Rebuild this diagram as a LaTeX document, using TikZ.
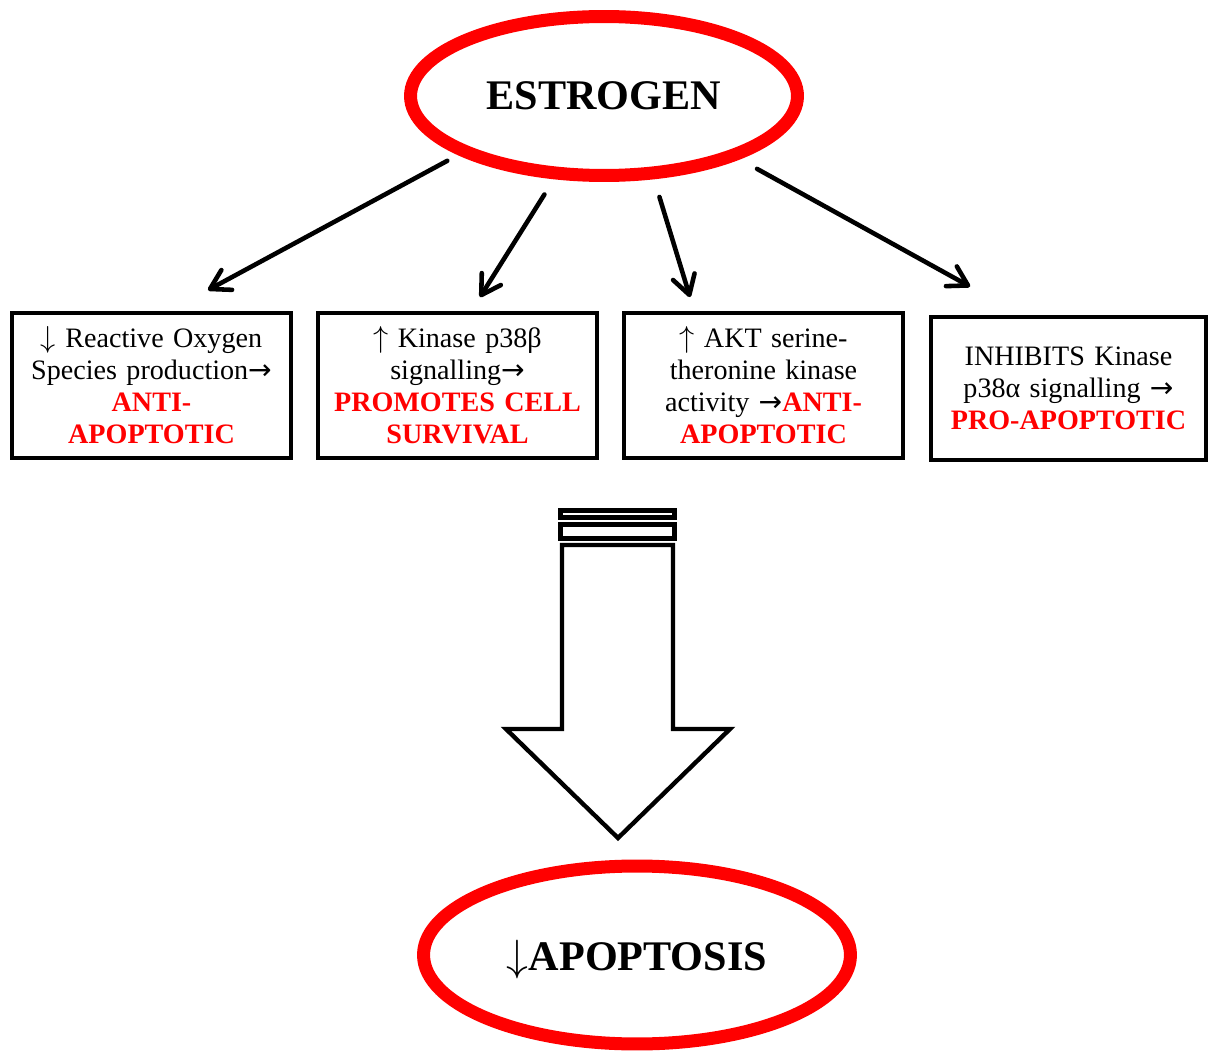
\documentclass[tikz,border=0pt]{standalone}
\usepackage{fontspec}
\setmainfont{Liberation Serif}
\newfontfamily\arrowfont{DejaVu Sans}
\usetikzlibrary{shapes.geometric,arrows.meta}
\definecolor{apored}{RGB}{255,0,0}
\newcommand{\outcome}[1]{\textcolor{apored}{\bfseries #1}}
\newcommand{\leadsarrow}{{\arrowfont →}}
\tikzset{
  hormone/.style={ellipse, draw=apored, line width=7.4pt, inner sep=0pt,
    font=\fontsize{24}{28}\selectfont\bfseries},
  effect/.style={draw, line width=2.5pt, minimum width=5.57cm, minimum height=2.89cm,
    text width=5.3cm, align=center, inner sep=0pt, font=\fontsize{16}{18.2}\selectfont},
  conn/.style={line width=2.6pt, line cap=round,
    -{Straight Barb[length=0.38cm,width=0.45cm,round]}},
  blockarrow/.style={draw, line width=2.5pt, fill=white}
}
\begin{document}
\begin{tikzpicture}[x=0.02cm,y=-0.02cm]
\useasboundingbox (0,0) rectangle (1208,1054);
% ---- hormone ----
\node[hormone, minimum width=7.74cm, minimum height=3.18cm] (estrogen) at (604,96) {ESTROGEN};
% ---- four effects ----
\node[effect] (ros) at (151.5,385.5)
  {$\downarrow$ Reactive Oxygen\\Species production\leadsarrow\\\outcome{ANTI-}\\\outcome{APOPTOTIC}};
\node[effect] (p38b) at (457.5,385.5)
  {$\uparrow$ Kinase p38β\\signalling\leadsarrow\\\outcome{PROMOTES CELL}\\\outcome{SURVIVAL}};
\node[effect] (akt) at (763.5,385.5)
  {$\uparrow$ AKT serine-\\theronine kinase\\activity \leadsarrow\outcome{ANTI-}\\\outcome{APOPTOTIC}};
\node[effect, minimum width=5.49cm, minimum height=2.85cm] (p38a) at (1068.5,388.5)
  {INHIBITS Kinase\\p38α signalling \leadsarrow\\\outcome{PRO-APOPTOTIC}};
% arrows from estrogen
\draw[conn, shorten <=0.25cm] (estrogen.202) -- ([xshift=1.13cm,yshift=0.42cm]ros.north);
\draw[conn, shorten <=0.36cm] (estrogen.239) -- ([xshift=0.45cm,yshift=0.28cm]p38b.north);
\draw[conn, shorten <=0.37cm] (estrogen.301) -- ([xshift=-1.47cm,yshift=0.28cm]akt.north);
\draw[conn, shorten <=0.40cm] (estrogen.335) -- ([xshift=-1.97cm,yshift=0.57cm]p38a.north);
% ---- big striped arrow ----
\draw[blockarrow] (560.5,510.5) rectangle (674.5,517.5);
\draw[blockarrow] (560.5,524.5) rectangle (674.5,538.5);
\draw[blockarrow] (562,545) -- (562,729) -- (506,729) -- (618,838)
  -- (730,729) -- (673,729) -- (673,545) -- cycle;
% ---- outcome ----
\node[hormone, minimum width=8.54cm, minimum height=3.56cm, text depth=0pt] (apoptosis) at (637,955)
  {$\downarrow$APOPTOSIS};
\end{tikzpicture}
\end{document}
